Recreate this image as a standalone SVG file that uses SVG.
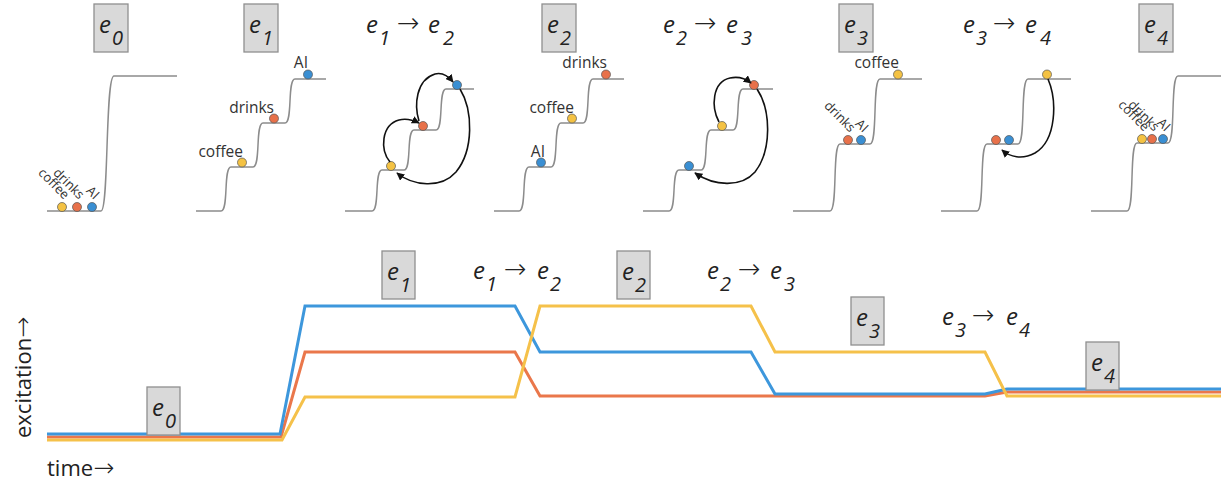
<svg xmlns="http://www.w3.org/2000/svg" width="1221" height="483" viewBox="0 0 1221 483">
<defs>
<style>
.stair{fill:none;stroke:#8c8c8c;stroke-width:1.5}
.box{fill:#d9d9d9;stroke:#8f8f8f;stroke-width:1.3}
.e{font-family:"Open Sans","Noto Sans",sans-serif;font-style:italic;font-size:24px;fill:#222}
.sub{font-size:20px}
.arr{font-family:"DejaVu Sans",sans-serif;font-style:normal;font-weight:200;font-size:27px}
.lbl{font-family:"Open Sans","Noto Sans",sans-serif;font-size:15.5px;fill:#333;text-anchor:end}
.rl{font-size:13px}
.dot{stroke:#555;stroke-width:0.7}
.y{fill:#f4c243}.o{fill:#e8714a}.b{fill:#3a8fd3}
.arc{fill:none;stroke:#111;stroke-width:1.6;marker-end:url(#ah)}
.ln{fill:none;stroke-width:3;stroke-linejoin:miter}
.axis{font-family:"Open Sans","Noto Sans",sans-serif;font-size:22px;fill:#222}
.axa{font-family:"DejaVu Sans",sans-serif;font-weight:200;font-size:25px}
</style>
<marker id="ah" viewBox="0 0 10 10" refX="9" refY="5" markerWidth="8" markerHeight="8" markerUnits="userSpaceOnUse" orient="auto">
<path d="M0,0 L10,5 L0,10 z" fill="#111"/>
</marker>
</defs>
<rect width="1221" height="483" fill="#fff"/>

<g id="panel-e0">
<rect class="box" x="94" y="4" width="34" height="48"/>
<text class="e" x="99" y="33">e</text><text class="e sub" x="112" y="45">0</text>
<path class="stair" d="M47,211 H101 C109,211 105,76 114,76 H177"/>
<circle class="dot y" cx="62" cy="207" r="4.5"/>
<circle class="dot o" cx="77" cy="207" r="4.5"/>
<circle class="dot b" cx="92" cy="207" r="4.5"/>
<text class="lbl rl" transform="translate(64,200) rotate(45)">coffee</text>
<text class="lbl rl" transform="translate(79,200) rotate(45)">drinks</text>
<text class="lbl rl" transform="translate(94,200) rotate(45)">AI</text>
</g>

<g id="panel-e1">
<rect class="box" x="244" y="4" width="34" height="48"/>
<text class="e" x="249" y="33">e</text><text class="e sub" x="262" y="45">1</text>
<path class="stair" d="M196,211 H221 C229,211 223,167 231,167 H253 C261,167 255,123 263,123 H285 C293,123 287,79 295,79 H326"/>
<circle class="dot y" cx="242" cy="162.5" r="4.5"/>
<circle class="dot o" cx="274" cy="118.5" r="4.5"/>
<circle class="dot b" cx="308" cy="74.5" r="4.5"/>
<text class="lbl" x="243" y="157">coffee</text>
<text class="lbl" x="274" y="113">drinks</text>
<text class="lbl" x="308" y="68">AI</text>
</g>

<g id="panel-e1-e2">
<text class="e" x="366" y="33">e<tspan class="sub" x="379" y="45">1</tspan><tspan class="arr" x="397" y="32">→</tspan><tspan x="428" y="33">e</tspan><tspan class="sub" x="443" y="45">2</tspan></text>
<path class="stair" d="M345,211 H372 C380,211 374,170 382,170 H404 C412,170 406,130 414,130 H436 C444,130 438,89 446,89 H474"/>
<circle class="dot y" cx="391" cy="166" r="4.5"/>
<circle class="dot o" cx="423" cy="126" r="4.5"/>
<circle class="dot b" cx="457" cy="85" r="4.5"/>
</g>

<g id="panel-e2">
<rect class="box" x="542" y="4" width="34" height="48"/>
<text class="e" x="547" y="33">e</text><text class="e sub" x="560" y="45">2</text>
<path class="stair" d="M494,211 H519 C527,211 521,167 529,167 H551 C559,167 553,123 561,123 H583 C591,123 585,79 593,79 H624"/>
<circle class="dot b" cx="541" cy="162.5" r="4.5"/>
<circle class="dot y" cx="572" cy="118.5" r="4.5"/>
<circle class="dot o" cx="606" cy="74.5" r="4.5"/>
<text class="lbl" x="545" y="157">AI</text>
<text class="lbl" x="574" y="113">coffee</text>
<text class="lbl" x="607" y="68">drinks</text>
</g>

<g id="panel-e2-e3">
<text class="e" x="663" y="33">e<tspan class="sub" x="676" y="45">2</tspan><tspan class="arr" x="694" y="32">→</tspan><tspan x="726" y="33">e</tspan><tspan class="sub" x="741" y="45">3</tspan></text>
<path class="stair" d="M643,211 H669 C677,211 671,170 679,170 H701 C709,170 703,130 711,130 H733 C741,130 735,89 743,89 H773"/>
<circle class="dot b" cx="689" cy="166" r="4.5"/>
<circle class="dot y" cx="722" cy="126" r="4.5"/>
<circle class="dot o" cx="754" cy="85" r="4.5"/>
</g>

<g id="panel-e3">
<rect class="box" x="839" y="4" width="34" height="48"/>
<text class="e" x="844" y="33">e</text><text class="e sub" x="857" y="45">3</text>
<path class="stair" d="M793,211 H830 C838,211 832,144 840,144 H870 C878,144 872,79 880,79 H922"/>
<circle class="dot o" cx="848" cy="140" r="4.5"/>
<circle class="dot b" cx="861" cy="140" r="4.5"/>
<circle class="dot y" cx="898" cy="74.5" r="4.5"/>
<text class="lbl" x="899" y="68">coffee</text>
<text class="lbl rl" transform="translate(850,133) rotate(45)">drinks</text>
<text class="lbl rl" transform="translate(863,133) rotate(45)">AI</text>
</g>

<g id="panel-e3-e4">
<text class="e" x="963" y="33">e<tspan class="sub" x="976" y="45">3</tspan><tspan class="arr" x="993" y="32">→</tspan><tspan x="1025" y="33">e</tspan><tspan class="sub" x="1040" y="45">4</tspan></text>
<path class="stair" d="M941,211 H977 C985,211 979,144 987,144 H1018 C1026,144 1020,79 1028,79 H1071"/>
<circle class="dot o" cx="996" cy="140" r="4.5"/>
<circle class="dot b" cx="1009" cy="140" r="4.5"/>
<circle class="dot y" cx="1047" cy="74.5" r="4.5"/>
</g>

<g id="panel-e4">
<rect class="box" x="1139" y="4" width="34" height="48"/>
<text class="e" x="1144" y="33">e</text><text class="e sub" x="1157" y="45">4</text>
<path class="stair" d="M1091,211 H1127 C1135,211 1129,143 1137,143 H1168 C1176,143 1170,76 1178,76 H1221"/>
<circle class="dot y" cx="1142" cy="139" r="4.5"/>
<circle class="dot o" cx="1152" cy="139" r="4.5"/>
<circle class="dot b" cx="1163" cy="139" r="4.5"/>
<text class="lbl rl" transform="translate(1144,132) rotate(45)">coffee</text>
<text class="lbl rl" transform="translate(1154,132) rotate(45)">drinks</text>
<text class="lbl rl" transform="translate(1165,132) rotate(45)">AI</text>
</g>

<g id="connectors">
<path class="arc" d="M390,162 C380,150 381,125 399,120 C407,118 413,120 419,123"/>
<path class="arc" d="M419,121 C414,105 416,80 435,74 C443,72 449,77 453,82"/>
<path class="arc" d="M460,89 C473,110 474,150 456,172 C441,189 413,186 397,173"/>
<path class="arc" d="M719,122 C711,107 712,82 730,78 C739,76 746,79 751,83"/>
<path class="arc" d="M757,89 C771,110 772,150 755,172 C741,188 714,186 695,173"/>
<path class="arc" d="M1048,79 C1057,100 1057,140 1035,153 C1022,160 1010,157 1002,150"/>
</g>

<g id="chart">
<path class="ln" stroke="#ea774b" d="M47,437 H281 L305,352 H515 L540,396 H985 L1007,392 H1221"/>
<path class="ln" stroke="#3d97dc" d="M47,434 H280 L305,306 H515 L540,352 H751 L775,394 H985 L1007,389 H1221"/>
<path class="ln" stroke="#f5c14a" d="M47,440 H282 L305,397 H515 L540,306 H751 L775,352 H985 L1007,396 H1221"/>
</g>

<g id="chart-e0">
<rect class="box" x="147" y="387" width="33" height="48"/>
<text class="e" x="152" y="416">e</text><text class="e sub" x="165" y="428">0</text>
</g>
<g id="chart-e1">
<rect class="box" x="382" y="251" width="33" height="48"/>
<text class="e" x="387" y="280">e</text><text class="e sub" x="400" y="292">1</text>
</g>
<g id="chart-e1-e2">
<text class="e" x="473" y="279">e<tspan class="sub" x="486" y="291">1</tspan><tspan class="arr" x="504" y="278">→</tspan><tspan x="537" y="279">e</tspan><tspan class="sub" x="550" y="291">2</tspan></text>
</g>
<g id="chart-e2">
<rect class="box" x="617" y="251" width="33" height="48"/>
<text class="e" x="622" y="280">e</text><text class="e sub" x="635" y="292">2</text>
</g>
<g id="chart-e2-e3">
<text class="e" x="707" y="279">e<tspan class="sub" x="720" y="291">2</tspan><tspan class="arr" x="738" y="278">→</tspan><tspan x="770" y="279">e</tspan><tspan class="sub" x="784" y="291">3</tspan></text>
</g>
<g id="chart-e3">
<rect class="box" x="851" y="297" width="33" height="48"/>
<text class="e" x="856" y="326">e</text><text class="e sub" x="869" y="338">3</text>
</g>
<g id="chart-e3-e4">
<text class="e" x="942" y="325">e<tspan class="sub" x="955" y="337">3</tspan><tspan class="arr" x="972" y="324">→</tspan><tspan x="1006" y="325">e</tspan><tspan class="sub" x="1019" y="337">4</tspan></text>
</g>
<g id="chart-e4">
<rect class="box" x="1086" y="342" width="33" height="48"/>
<text class="e" x="1091" y="371">e</text><text class="e sub" x="1104" y="383">4</text>
</g>

<g id="axes">
<text class="axis" transform="translate(31,438) rotate(-90)">excitation<tspan class="axa">→</tspan></text>
<text class="axis" x="47" y="476">time<tspan class="axa">→</tspan></text>
</g>
</svg>
